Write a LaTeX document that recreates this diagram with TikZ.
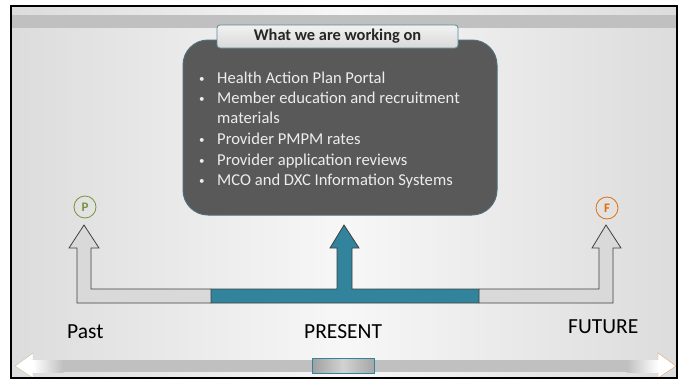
\documentclass[tikz,border=0pt]{standalone}
\usepackage{xcolor}
\usepackage{fontspec}
\setmainfont{Carlito}
\usepackage{tikz}
\usetikzlibrary{shapes, arrows.meta, positioning}

\definecolor{tealBar}{HTML}{31849B}
\definecolor{darkFill}{HTML}{595959}
\definecolor{bgSide}{HTML}{DCDCDC}
\definecolor{bgMid}{HTML}{F7F7F7}
\definecolor{bandGray}{HTML}{C0C0C0}
\definecolor{pGreen}{HTML}{77933C}
\definecolor{fOrange}{HTML}{E46C0A}
\definecolor{lineDark}{HTML}{404040}

\newcommand{\blt}{\makebox[18pt][l]{\raisebox{1pt}{\fontsize{11}{11}\selectfont •}}}

\begin{document}
\begin{tikzpicture}[x=1pt, y=-1pt, every node/.style={inner sep=0pt, font=\fontsize{16.6}{20}\selectfont}]
    \useasboundingbox (0,0) rectangle (685,381);
    \fill[white] (0,0) rectangle (685,381);
    \shade[left color=bgSide, right color=bgSide, middle color=bgMid] (11,6) rectangle (677,378);
    \fill[bandGray] (11,15) rectangle (677,28);

    % time line at the bottom
    \fill[bandGray] (40,360) rectangle (650,372);
    \shade[left color=white, right color=bandGray] (33,360) rectangle (63,372);
    \shade[left color=bandGray, right color=white] (627,360) rectangle (658,372);
    \draw[draw={rgb,255:red,196;green,189;blue,151}, fill=white] (33,360) -- (33,353) -- (15,366) -- (33,378) -- (33,372);
    \draw[draw={rgb,255:red,233;green,160;blue,110}, fill=white] (658,360) -- (658,353) -- (676,366) -- (658,378) -- (658,372);
    \node (nowMark) [rectangle, draw=tealBar, minimum width=62, minimum height=15, left color=gray!75, right color=gray!70, middle color=gray!35] at (343,365.5) {};

    % work box
    \node (workBox) [rectangle, rounded corners=25pt, draw={rgb,255:red,80;green,110;blue,125}, line width=1pt, fill=darkFill, minimum width=314, minimum height=175] at (340,127.5) {};
    \node (tabTitle) [rectangle, rounded corners=3pt, draw={rgb,255:red,90;green,140;blue,150}, line width=0.8pt, top color=gray!10, bottom color=gray!30, minimum width=241, minimum height=23, font=\bfseries\fontsize{16.4}{16}\selectfont, text=black!85] at (337.5,36.5) {What we are working on};

    \node (itemA) [anchor=base west, text=white!93!black] at (199,83) {\blt Health Action Plan Portal};
    \node (itemB) [anchor=base west, text=white!93!black] at (199,103) {\blt Member education and recruitment};
    \node (itemBb) [anchor=base west, text=white!93!black] at (217,123) {materials};
    \node (itemC) [anchor=base west, text=white!93!black] at (199,144) {\blt Provider PMPM rates};
    \node (itemD) [anchor=base west, text=white!93!black] at (199,165) {\blt Provider application reviews};
    \node (itemE) [anchor=base west, text=white!93!black] at (199,185) {\blt MCO and DXC Information Systems};

    % arrows
    \draw[fill=gray!30, draw=lineDark, line width=0.8pt] (211,289) -- (91,289) -- (91,248) -- (99,248) -- (84,225) -- (69,248) -- (77,248) -- (77,303) -- (211,303);
    \draw[fill=gray!30, draw=lineDark, line width=0.8pt] (479,289) -- (599,289) -- (599,248) -- (592,248) -- (606,225) -- (621,248) -- (613,248) -- (613,303) -- (479,303);
    \draw[fill=tealBar, draw=lineDark, line width=0.8pt] (211,289) -- (337,289) -- (337,248) -- (330,248) -- (344,225) -- (359,248) -- (352,248) -- (352,289) -- (479,289) -- (479,303) -- (211,303) -- cycle;

    \node (pastMark) [circle, draw=pGreen, line width=0.8pt, minimum size=22pt, text=pGreen, font=\bfseries\fontsize{13}{13}\selectfont] at (85,207) {P};
    \node (futMark) [circle, draw=fOrange, line width=0.8pt, minimum size=22pt, text=fOrange, font=\bfseries\fontsize{13}{13}\selectfont] at (607,208) {F};

    \node (pastLbl) [anchor=base west, font=\fontsize{21.5}{21}\selectfont] at (67,338) {Past};
    \node (nowLbl) [anchor=base west, font=\fontsize{21.5}{21}\selectfont] at (304,338) {PRESENT};
    \node (futLbl) [anchor=base west, font=\fontsize{21.5}{21}\selectfont] at (568,333) {FUTURE};

    \draw[black, line width=1.5pt] (11,6) rectangle (677,378);
\end{tikzpicture}
\end{document}
